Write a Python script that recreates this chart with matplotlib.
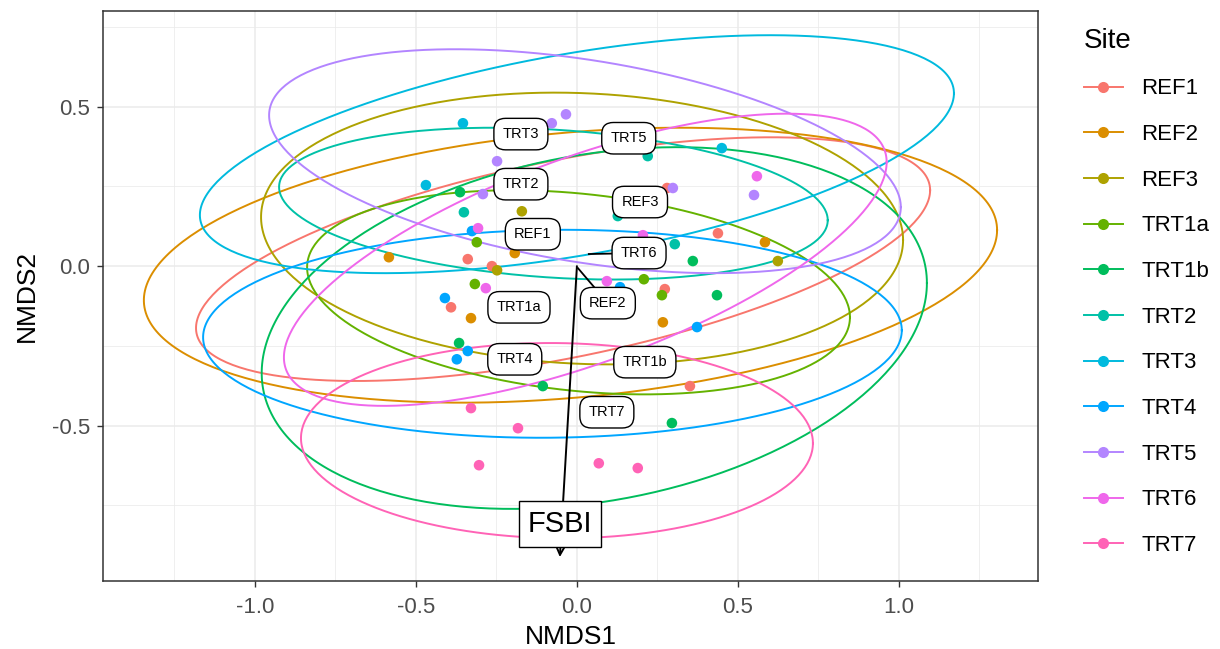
import numpy as np
import matplotlib
matplotlib.use('Agg')
from matplotlib import pyplot as plt
from matplotlib.lines import Line2D
from matplotlib.ticker import MultipleLocator

plt.rcParams['font.family'] = ['Liberation Sans', 'DejaVu Sans']

sites = ['REF1', 'REF2', 'REF3', 'TRT1a', 'TRT1b', 'TRT2', 'TRT3', 'TRT4', 'TRT5', 'TRT6', 'TRT7']
colors = ['#F8766D', '#DB8E00', '#AEA200', '#64B200', '#00BD5C', '#00C1A7',
          '#00BADE', '#00A6FF', '#B385FF', '#EF67EB', '#FF63B6']

# sample scores, long format
point_site = (['REF1'] * 7 + ['REF2'] * 5 + ['REF3'] * 3 + ['TRT1a'] * 4 + ['TRT1b'] * 6
              + ['TRT2'] * 4 + ['TRT3'] * 3 + ['TRT4'] * 6 + ['TRT5'] * 6 + ['TRT6'] * 5 + ['TRT7'] * 5)
point_x = [-0.339, -0.264, -0.391, 0.438, 0.273, 0.280, 0.351,
           -0.584, -0.193, -0.329, 0.584, 0.267,
           -0.171, -0.248, 0.624,
           -0.311, -0.317, 0.208, 0.264,
           -0.363, 0.360, 0.435, -0.366, -0.106, 0.295,
           -0.351, 0.220, 0.127, 0.304,
           -0.354, -0.469, 0.450,
           -0.326, -0.410, 0.134, 0.373, -0.339, -0.373,
           -0.078, -0.034, -0.248, -0.292, 0.298, 0.550,
           -0.307, -0.283, 0.093, 0.559, 0.205,
           -0.329, -0.183, -0.304, 0.068, 0.189]
point_y = [0.022, 0.000, -0.129, 0.103, -0.072, 0.245, -0.376,
           0.028, 0.041, -0.163, 0.075, -0.176,
           0.172, -0.013, 0.016,
           0.075, -0.056, -0.041, -0.091,
           0.232, 0.016, -0.091, -0.241, -0.376, -0.492,
           0.169, 0.345, 0.157, 0.069,
           0.448, 0.254, 0.370,
           0.110, -0.100, -0.066, -0.191, -0.266, -0.292,
           0.448, 0.476, 0.329, 0.226, 0.245, 0.223,
           0.119, -0.069, -0.047, 0.282, 0.097,
           -0.445, -0.508, -0.624, -0.618, -0.633]

# 95% ellipses: centre, half width, y shift at right end, half height
ell_cx = [-0.043, -0.020, 0.016, 0.005, 0.054, -0.073, 0.000, -0.076, 0.025, 0.026, -0.062]
ell_cy = [0.022, 0.003, 0.118, -0.082, -0.194, 0.196, 0.351, -0.212, 0.329, 0.020, -0.547]
ell_a = [1.140, 1.325, 0.997, 0.843, 1.033, 0.852, 1.171, 1.085, 0.981, 0.936, 0.795]
ell_d = [0.216, 0.110, -0.036, -0.078, 0.141, -0.052, 0.191, 0.011, -0.144, 0.306, -0.008]
ell_h = [0.382, 0.431, 0.426, 0.320, 0.567, 0.238, 0.373, 0.326, 0.351, 0.458, 0.306]

# site label positions (repelled) and centroids
lab_x = [-0.137, 0.096, 0.196, -0.180, 0.211, -0.174, -0.174, -0.193, 0.161, 0.193, 0.093]
lab_y = [0.100, -0.116, 0.201, -0.129, -0.301, 0.257, 0.414, -0.292, 0.401, 0.041, -0.458]
cen_x = [-0.137, 0.003, 0.196, -0.180, 0.211, -0.174, -0.174, -0.193, 0.161, 0.037, 0.093]
cen_y = [0.100, -0.006, 0.201, -0.129, -0.301, 0.257, 0.414, -0.292, 0.401, 0.038, -0.458]

# environmental vector
fsbi_x = -0.053
fsbi_y = -0.912
fsbi_lab_x = -0.053
fsbi_lab_y = -0.809

fig = plt.figure(figsize=(12.2, 6.49), dpi=100)
ax = fig.add_axes([0.0844, 0.1048, 0.7664, 0.8783])

t = np.linspace(0, 2 * np.pi, 300)
for i, s in enumerate(sites):
    e = np.sqrt(max(ell_h[i] ** 2 - ell_d[i] ** 2, 0))
    ex = ell_cx[i] + ell_a[i] * np.cos(t)
    ey = ell_cy[i] + ell_d[i] * np.cos(t) + e * np.sin(t)
    ax.plot(ex, ey, color=colors[i], lw=1.4, zorder=3)

px = np.array(point_x)
py = np.array(point_y)
ps = np.array(point_site)
for i, s in enumerate(sites):
    m = ps == s
    ax.scatter(px[m], py[m], s=58, color=colors[i], edgecolors='none', zorder=4)

# segments from centroid to label
for i, s in enumerate(sites):
    if abs(lab_x[i] - cen_x[i]) > 1e-6 or abs(lab_y[i] - cen_y[i]) > 1e-6:
        ax.plot([cen_x[i], lab_x[i]], [cen_y[i], lab_y[i]], color='black', lw=1.3, zorder=5)

for i, s in enumerate(sites):
    ax.text(lab_x[i], lab_y[i], s, fontsize=10.5, ha='center', va='center', zorder=7,
            bbox=dict(boxstyle='round,pad=0.6,rounding_size=0.8', fc='white', ec='black', lw=1.0))

ax.annotate('', xy=(fsbi_x, fsbi_y), xytext=(0, 0),
            arrowprops=dict(arrowstyle='->', color='black', lw=1.4, mutation_scale=27,
                            shrinkA=0, shrinkB=0), zorder=6)
ax.text(fsbi_lab_x, fsbi_lab_y, 'FSBI', fontsize=21, ha='center', va='center', zorder=6,
        bbox=dict(boxstyle='square,pad=0.3', fc='white', ec='black', lw=1.0))

ax.set_xlim(-1.472, 1.432)
ax.set_ylim(-0.987, 0.80)
ax.xaxis.set_minor_locator(MultipleLocator(0.25))
ax.yaxis.set_minor_locator(MultipleLocator(0.25))
ax.set_xticks([-1.0, -0.5, 0.0, 0.5, 1.0])
ax.set_xticklabels(['-1.0', '-0.5', '0.0', '0.5', '1.0'])
ax.set_yticks([-0.5, 0.0, 0.5])
ax.set_yticklabels(['-0.5', '0.0', '0.5'])
ax.grid(which='major', color='#EBEBEB', lw=1.1, zorder=0)
ax.grid(which='minor', color='#EBEBEB', lw=0.55, zorder=0)
ax.set_axisbelow(True)
ax.tick_params(which='major', length=4.5, width=1.0, color='#333333', labelcolor='#4D4D4D',
               labelsize=16, pad=5)
ax.tick_params(axis='x', which='major', pad=7)
ax.tick_params(which='minor', length=0)
for sp in ax.spines.values():
    sp.set_color('#333333')
    sp.set_linewidth(1.1)
ax.set_xlabel('NMDS1', fontsize=19, labelpad=5)
ax.set_ylabel('NMDS2', fontsize=19, labelpad=9)

handles = [Line2D([0], [0], color=c, lw=1.4, marker='o', markersize=8, markeredgewidth=0)
           for c in colors]
leg = fig.legend(handles, sites, loc='upper left', bbox_to_anchor=(0.872, 0.988), frameon=False,
                 title='Site', fontsize=16, title_fontsize=20, handlelength=1.75,
                 handletextpad=0.85, labelspacing=1.11, alignment='left')

fig.savefig('out.png', dpi=100)
